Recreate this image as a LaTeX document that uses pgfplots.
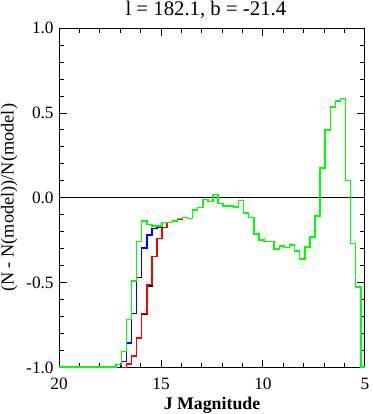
\documentclass[border=0pt]{standalone}
\usepackage{fontspec}
\setmainfont{Liberation Serif}
\usepackage{pgfplots}
\pgfplotsset{compat=1.18}
\begin{document}
\begin{tikzpicture}
\begin{axis}[
  scale only axis, width=308bp, height=342bp,
  xmin=5, xmax=20, ymin=-1, ymax=1, x dir=reverse,
  xtick={5,10,15,20}, xticklabels={5,10,15,20},
  minor x tick num=4,
  ytick={-1,-0.5,0,0.5,1}, yticklabels={-1.0,-0.5,0.0,0.5,1.0},
  minor y tick num=4,
  tick align=inside,
  major tick length=8bp, minor tick length=4.5bp,
  axis line style={line width=1.2bp},
  every tick/.style={black, line width=1bp},
  tick label style={font=\fontsize{17.5}{19}\selectfont},
  xticklabel style={yshift=-7bp},
  yticklabel style={xshift=-2bp},
  title={l = 182.1, b = -21.4},
  title style={font=\fontsize{21}{23}\selectfont, at={(axis description cs:0.48,1.02)}, anchor=base, inner sep=1bp},
  xlabel={\textbf{J Magnitude}},
  xlabel style={font=\fontsize{18}{20}\selectfont, at={(axis description cs:0.5,-0.122)}, anchor=base, inner sep=1bp},
  ylabel={(N - N(model))/N(model)},
  ylabel style={font=\fontsize{18.5}{20}\selectfont, at={(axis description cs:-0.163,0.5)}, anchor=center, inner sep=1bp},
  const plot,
  every axis plot/.append style={line width=1.5bp},
]
% zero line
\addplot[black, line width=1.1bp, sharp plot] coordinates {(5,0) (20,0)};
% black (under red)
\addplot[black] coordinates {
(20,-0.998) (16.95,-0.998) (16.7,-0.978) (16.45,-0.93) (16.2,-0.826)
(15.95,-0.688) (15.7,-0.52) (15.45,-0.345) (15.2,-0.24) (14.95,-0.174)
(14.7,-0.146) (14.45,-0.14) (14.2,-0.125) (13.95,-0.115) (13.7,-0.115)};
% red
\addplot[red] coordinates {
(20,-0.998) (16.95,-0.998) (16.7,-0.978) (16.45,-0.93) (16.2,-0.826)
(15.95,-0.68) (15.7,-0.51) (15.45,-0.345) (15.2,-0.24) (14.95,-0.174)
(14.7,-0.146) (14.45,-0.14) (14.2,-0.125) (13.95,-0.115) (13.7,-0.115)};
% blue
\addplot[blue] coordinates {
(20,-0.998) (16.95,-0.963) (16.7,-0.855) (16.45,-0.68) (16.2,-0.47)
(15.95,-0.296) (15.7,-0.218) (15.45,-0.18) (15.2,-0.174) (14.95,-0.146)
(14.7,-0.146)};
% green
\addplot[color={rgb,255:red,0;green,255;blue,0}] coordinates {
(20,-0.995) (17.2,-0.98) (16.95,-0.906) (16.7,-0.715) (16.45,-0.49)
(16.2,-0.257) (15.95,-0.136) (15.7,-0.156) (15.45,-0.166) (15.2,-0.166)
(14.95,-0.144) (14.7,-0.144) (14.45,-0.136) (14.2,-0.121) (13.95,-0.115)
(13.7,-0.121) (13.45,-0.072) (13.2,-0.058) (12.95,-0.008) (12.7,-0.02)
(12.45,0.02) (12.2,-0.033) (11.95,-0.047) (11.7,-0.047) (11.45,-0.053)
(11.2,-0.014) (10.95,-0.09) (10.7,-0.117) (10.45,-0.212) (10.2,-0.247)
(9.95,-0.257) (9.7,-0.257) (9.45,-0.3) (9.2,-0.283) (8.95,-0.292)
(8.7,-0.277) (8.45,-0.312) (8.2,-0.359) (7.95,-0.288) (7.7,-0.23)
(7.45,-0.107) (7.2,0.175) (6.95,0.40) (6.7,0.536) (6.45,0.571)
(6.2,0.585) (5.95,0.103) (5.7,-0.27) (5.45,-0.526) (5.2,-0.995)
(5.0,-0.995)};
\end{axis}
\end{tikzpicture}
\end{document}
